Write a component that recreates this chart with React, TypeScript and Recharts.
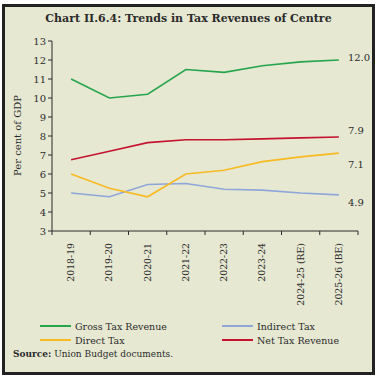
import { LineChart, Line, XAxis, YAxis, LabelList } from 'recharts';

const years = ['2018-19', '2019-20', '2020-21', '2021-22', '2022-23', '2023-24', '2024-25 (RE)', '2025-26 (BE)'];
const grossTax = [11.0, 10.0, 10.2, 11.5, 11.35, 11.7, 11.9, 12.0];
const indirectTax = [5.0, 4.8, 5.45, 5.5, 5.2, 5.15, 5.0, 4.9];
const directTax = [6.0, 5.25, 4.8, 6.0, 6.2, 6.65, 6.9, 7.1];
const netTax = [6.75, 7.2, 7.65, 7.8, 7.8, 7.85, 7.9, 7.95];
const yTicks = [3, 4, 5, 6, 7, 8, 9, 10, 11, 12, 13];
const endLabels = { gross: '12.0', indirect: '4.9', direct: '7.1', net: '7.9' };

const data = years.map((y, i) => ({
  x: i + 0.5,
  year: y,
  gross: grossTax[i],
  indirect: indirectTax[i],
  direct: directTax[i],
  net: netTax[i],
}));

const FONT = '"DejaVu Serif", serif';
const INK = '#2b2b2b';
const LAST = years.length - 1;

const series = [
  { key: 'gross', name: 'Gross Tax Revenue', color: '#27a54d', dy: -3 },
  { key: 'indirect', name: 'Indirect Tax', color: '#8ea6da', dy: 8 },
  { key: 'direct', name: 'Direct Tax', color: '#f8b922', dy: 11 },
  { key: 'net', name: 'Net Tax Revenue', color: '#c4122f', dy: -6 },
];

const XTick = (props: any) => {
  const { x, y, payload, index } = props;
  if (index >= years.length) return null;
  const band = 306 / years.length;
  return (
    <text
      x={0}
      y={0}
      transform={`translate(${x + band / 2 + 3},${y + 6}) rotate(-90)`}
      textAnchor="end"
      fontSize={9.3}
      fontFamily={FONT}
      fill={INK}
    >
      {years[payload.value]}
    </text>
  );
};

const endLabel = (key: string, dy: number) => (props: any) => {
  const { x, y, index } = props;
  if (index !== LAST) return null;
  return (
    <text x={x + 9} y={y + dy} dominantBaseline="central" fontSize={10} fontFamily={FONT} fill={INK}>
      {endLabels[key as keyof typeof endLabels]}
    </text>
  );
};

export default function App() {
  return (
    <div style={{ position: 'absolute', left: 0, top: 0, width: 377, height: 378, background: '#fff', fontFamily: FONT }}>
      <div
        style={{
          position: 'absolute',
          left: 2,
          top: 4,
          width: 367,
          height: 365,
          border: '3px solid #222',
          background: '#e6e8d2',
        }}
      />
      <div
        style={{
          position: 'absolute',
          left: 0,
          top: 12,
          width: 377,
          textAlign: 'center',
          fontSize: 11,
          fontWeight: 'bold',
          color: INK,
        }}
      >
        Chart II.6.4: Trends in Tax Revenues of Centre
      </div>
      <div style={{ position: 'absolute', left: 0, top: 0 }}>
        <LineChart width={377} height={311} data={data} margin={{ top: 41, right: 19, left: 22, bottom: 0 }}>
          <XAxis
            dataKey="x"
            type="number"
            domain={[0, 8]}
            ticks={[0, 1, 2, 3, 4, 5, 6, 7, 8]}
            interval={0}
            height={80}
            tick={<XTick />}
            tickSize={4}
            axisLine={{ stroke: INK }}
            tickLine={{ stroke: INK }}
          />
          <YAxis
            domain={[3, 13]}
            ticks={yTicks}
            interval={0}
            width={30}
            tickSize={4}
            axisLine={{ stroke: INK }}
            tickLine={{ stroke: INK }}
            tick={{ fill: INK, fontSize: 10, fontFamily: FONT }}
            label={{
              value: 'Per cent of GDP',
              angle: -90,
              position: 'insideLeft',
              dx: -10,
              dy: 40,
              style: { fill: INK, fontSize: 10, fontFamily: FONT },
            }}
          />
          {series.map((s) => (
            <Line
              key={s.key}
              type="linear"
              dataKey={s.key}
              stroke={s.color}
              strokeWidth={1.6}
              dot={false}
              isAnimationActive={false}
            >
              <LabelList dataKey={s.key} content={endLabel(s.key, s.dy)} />
            </Line>
          ))}
        </LineChart>
      </div>
      {series.map((s, i) => {
        const col = i % 2;
        const row = Math.floor(i / 2);
        const left = col === 0 ? 40 : 222;
        const top = 320 + row * 14;
        return (
          <div key={s.key} style={{ position: 'absolute', left, top, height: 12, display: 'flex', alignItems: 'center' }}>
            <div style={{ width: 31, height: 2, background: s.color, marginRight: 4 }} />
            <span style={{ fontSize: 9.5, color: INK, whiteSpace: 'nowrap' }}>{s.name}</span>
          </div>
        );
      })}
      <div style={{ position: 'absolute', left: 13, top: 349, fontSize: 9, color: INK, whiteSpace: 'nowrap' }}>
        <b>Source:</b> Union Budget documents.
      </div>
    </div>
  );
}
